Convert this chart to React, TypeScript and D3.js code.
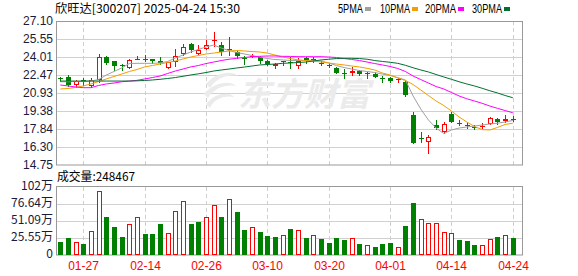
import React from 'react';
import * as d3 from 'd3';

const dates = ["01-22","01-23","01-24","01-27","02-05","02-06","02-07","02-10","02-11","02-12","02-13","02-14","02-17","02-18","02-19","02-20","02-21","02-24","02-25","02-26","02-27","02-28","03-03","03-04","03-05","03-06","03-07","03-10","03-11","03-12","03-13","03-14","03-17","03-18","03-19","03-20","03-21","03-24","03-25","03-26","03-27","03-28","03-31","04-01","04-02","04-03","04-07","04-08","04-09","04-10","04-11","04-14","04-15","04-16","04-17","04-18","04-21","04-22","04-23","04-24"];

const open = [22.21,22.34,21.57,22.08,21.53,22.04,23.97,23.63,23.33,23.11,23.88,23.77,23.80,23.63,23.07,23.58,24.27,25.17,24.27,24.74,25.39,25.04,24.66,24.48,23.93,23.99,23.99,23.67,23.28,23.65,23.56,23.28,23.90,23.87,23.50,23.35,23.10,22.66,22.61,22.81,22.57,22.53,22.21,22.24,22.08,21.89,19.04,17.06,16.70,18.18,17.61,19.12,18.39,18.14,18.01,18.07,18.29,18.69,18.52,18.72];
const high = [22.32,22.43,22.08,22.25,22.21,24.23,24.06,23.67,23.41,23.88,24.14,24.18,23.88,23.97,23.62,24.70,25.13,25.25,25.08,25.47,26.16,25.34,25.77,24.53,24.06,24.23,24.06,23.76,23.54,23.69,24.04,23.90,23.97,24.04,23.63,23.47,23.18,22.98,23.18,22.90,22.75,22.70,22.41,22.32,22.24,21.95,19.32,17.55,17.32,18.61,18.46,19.32,18.61,18.41,18.21,18.33,18.89,18.76,19.04,18.98];
const low = [21.98,21.53,21.48,21.61,21.44,21.87,23.37,22.90,22.94,23.07,23.80,23.63,23.54,23.45,23.03,23.20,24.18,24.48,24.23,24.70,24.95,24.18,24.18,23.93,23.45,23.97,23.54,23.33,23.11,23.33,23.11,23.11,23.54,23.61,23.33,23.16,22.61,22.24,22.47,22.47,22.24,22.27,21.84,21.89,21.84,20.67,16.60,16.69,15.81,17.88,17.47,18.41,18.18,17.90,17.84,17.90,18.27,18.27,18.46,18.52];
const close = [22.17,21.61,21.95,21.87,22.00,23.97,23.54,23.28,23.20,23.76,23.84,23.80,23.63,23.54,23.58,24.14,24.87,24.65,24.61,25.08,25.43,24.44,24.70,24.06,23.88,24.10,23.67,23.39,23.37,23.56,23.54,23.67,23.63,23.83,23.45,23.31,22.67,22.64,22.84,22.58,22.60,22.32,22.17,21.95,22.13,20.75,16.60,17.02,17.13,17.90,18.24,18.46,18.35,18.09,17.97,18.11,18.81,18.41,18.70,18.68];
const prevClose = 22.30;

// volume in 万
const volume = [20.0,26.0,19.5,16.5,36.1,96.2,57.1,42.1,27.0,46.6,57.1,31.6,31.6,46.6,33.1,66.1,81.1,46.6,49.6,56.6,75.1,57.1,83.6,64.6,37.6,41.6,34.6,28.5,27.0,29.6,39.1,37.1,25.5,29.6,24.0,18.0,25.5,22.5,25.0,16.5,14.5,12.0,16.5,18.0,11.5,43.6,78.1,53.6,48.1,48.1,34.6,33.1,22.5,21.0,15.0,15.0,24.0,27.0,29.6,24.8467];

const ma5 = [21.89,21.89,21.91,21.91,21.95,22.08,22.47,22.77,23.07,23.45,23.47,23.47,23.47,23.50,23.63,23.93,24.18,24.44,24.66,24.87,25.04,24.78,24.57,24.40,24.27,24.14,24.01,23.88,23.80,23.76,23.71,23.71,23.71,23.73,23.67,23.50,23.28,23.11,22.98,22.85,22.77,22.68,22.55,22.43,22.25,22.04,20.67,19.55,18.61,17.92,17.45,17.75,17.92,18.01,18.09,18.18,18.27,18.33,18.44,18.57];
const ma10 = [21.27,21.31,21.40,21.53,21.70,21.91,22.13,22.34,22.55,22.77,22.94,23.16,23.28,23.41,23.54,23.67,23.84,24.01,24.14,24.27,24.35,24.44,24.53,24.57,24.53,24.48,24.44,24.35,24.18,24.01,23.88,23.76,23.71,23.67,23.58,23.50,23.41,23.33,23.24,23.16,23.04,22.90,22.64,22.47,22.21,22.00,21.65,21.18,20.71,20.24,19.85,19.38,18.87,18.44,18.05,17.79,17.75,17.97,18.23,18.33];
const ma20 = [21.61,21.53,21.44,21.38,21.38,21.57,21.70,21.78,21.89,21.95,22.01,22.13,22.25,22.38,22.60,22.81,22.98,23.16,23.28,23.45,23.58,23.71,23.82,23.90,23.97,24.04,24.07,24.10,24.10,24.07,24.06,24.04,24.04,24.04,24.04,24.01,23.97,23.88,23.80,23.71,23.58,23.45,23.33,23.20,23.03,22.77,22.38,22.08,21.78,21.48,21.27,20.97,20.67,20.43,20.24,20.04,19.81,19.61,19.42,19.23];
const ma30 = [21.95,21.95,21.95,21.95,21.95,21.95,21.95,21.95,21.95,21.95,21.97,22.00,22.04,22.10,22.17,22.25,22.36,22.47,22.57,22.68,22.81,22.90,22.98,23.07,23.15,23.24,23.33,23.37,23.41,23.47,23.50,23.54,23.58,23.67,23.76,23.82,23.88,23.90,23.90,23.88,23.82,23.71,23.63,23.56,23.47,23.30,23.09,22.90,22.73,22.51,22.30,22.10,21.89,21.70,21.53,21.33,21.12,20.93,20.71,20.52];

const priceTicks = [14.75, 16.30, 17.84, 19.38, 20.93, 22.47, 24.01, 25.55, 27.10];
const volTicks = [0, 25.55, 51.09, 76.64, 102.18];
const volTickLabels = ["0", "25.55万", "51.09万", "76.64万", "102万"];
const xTicks = ["01-27", "02-14", "02-26", "03-10", "03-20", "04-01", "04-14", "04-24"];

const title = "欣旺达[300207] 2025-04-24 15:30";
const volTitle = "成交量:248467";
const legendNames = ["5PMA", "10PMA", "20PMA", "30PMA"];
const maColors = ["#a0a0a0", "#f0a000", "#ff00ff", "#006f30"];

const RED = "#ff0000";
const GREEN = "#008000";

export default function App() {
  const left = 56.5, right = 522.5;
  const x = d3.scalePoint<string>().domain(dates).range([60.3, 512.8]);
  const y = d3.scaleLinear().domain([14.75, 27.10]).range([165, 21]);
  const vy = d3.scaleLinear().domain([0, 102.18]).range([255, 187]);
  const px = (v: number) => Math.round(v) + 0.5;
  const font = "'Liberation Sans', 'Noto Sans CJK SC', sans-serif";
  const cjk = "'Noto Sans CJK SC', 'Liberation Sans', sans-serif";

  const maSeries = [ma5, ma10, ma20, ma30];
  const line = (arr: number[]) =>
    d3.line<number>().x((_, i) => x(dates[i]) as number).y((v) => y(v))(arr) || "";

  const legendX = [338, 380, 425, 472];
  const legendW = [25, 30, 31, 30];

  return (
    <svg width={578} height={276} style={{ position: 'absolute', left: 0, top: 0, background: '#fff' }}>
      <rect x={0} y={0} width={578} height={276} fill="#fff" />
      {/* title */}
      <text x={55} y={13} fontFamily={cjk} fontSize={12} fill="#000" textLength={185} lengthAdjust="spacingAndGlyphs">{title}</text>
      {/* legend */}
      {legendNames.map((n, i) => (
        <g key={n}>
          <text x={legendX[i]} y={13} fontFamily={font} fontSize={12} fill="#000" textLength={legendW[i]} lengthAdjust="spacingAndGlyphs">{n}</text>
          <rect x={legendX[i] + legendW[i] + 2} y={7} width={6} height={4} fill={maColors[i]} />
        </g>
      ))}

      {/* main grid */}
      {priceTicks.map((t, i) => (
        <g key={'pt' + i}>
          {i > 0 && i < priceTicks.length - 1 && (
            <line x1={left} x2={right} y1={px(y(t))} y2={px(y(t))} stroke="#d0d0d0" />
          )}
          <text x={53} y={Math.round(y(t)) + 4} textAnchor="end" fontFamily={font} fontSize={12} fill="#1a1a3a">{t.toFixed(2)}</text>
        </g>
      ))}
      {volTicks.map((t, i) => (
        <g key={'vt' + i}>
          {i > 0 && i < volTicks.length - 1 && (
            <line x1={left} x2={right} y1={px(vy(t))} y2={px(vy(t))} stroke="#d0d0d0" />
          )}
          <text x={53} y={Math.round(vy(t)) + 3} textAnchor="end" fontFamily={cjk} fontSize={12} fill="#1a1a3a">{volTickLabels[i]}</text>
        </g>
      ))}
      {xTicks.map((d) => {
        const cx = px(x(d) as number);
        return (
          <g key={'x' + d}>
            <line x1={cx} x2={cx} y1={21} y2={165} stroke="#cfcfcf" strokeDasharray="4,3" />
            <line x1={cx} x2={cx} y1={187} y2={255} stroke="#cfcfcf" strokeDasharray="4,3" />
            <text x={cx} y={270} textAnchor="middle" fontFamily={font} fontSize={12} fill={RED}>{d}</text>
          </g>
        );
      })}

      {/* watermark */}
      <text x={238} y={106} fontFamily={cjk} fontSize={33} fontWeight="bold" fill="#ebebeb" fontStyle="italic">东方财富</text>
      <g fill="#ebebeb">
        <path d="M206,84 C216,72 232,70 238,76 C228,74 216,78 210,88 Z" />
        <path d="M204,94 C214,82 230,80 236,86 C226,84 214,88 208,98 Z" />
        <path d="M206,104 C216,92 230,92 234,97 C224,95 214,99 210,108 Z" />
      </g>

      {/* borders */}
      <rect x={left} y={21.5} width={right - left} height={143.5} fill="none" stroke="#999" />
      <rect x={left} y={186.5} width={right - left} height={68.5} fill="none" stroke="#999" />

      {/* candles */}
      {dates.map((d, i) => {
        const cx = px(x(d) as number);
        const o = open[i], c = close[i];
        const up = c > o;
        const col = up ? RED : GREEN;
        const yTop = Math.round(y(Math.max(o, c)));
        const yBot = Math.round(y(Math.min(o, c)));
        const h = Math.max(1, yBot - yTop);
        return (
          <g key={'c' + d}>
            <line x1={cx} x2={cx} y1={Math.round(y(high[i]))} y2={Math.round(y(low[i])) + 1} stroke={col} />
            {up ? (
              h > 2 ? (
                <rect x={cx - 2} y={yTop + 0.5} width={4} height={h - 1} fill="#fff" stroke={col} />
              ) : (
                <rect x={cx - 2.5} y={yTop} width={5} height={h} fill={col} />
              )
            ) : (
              <rect x={cx - 2.5} y={yTop} width={5} height={h} fill={col} />
            )}
          </g>
        );
      })}

      {/* moving averages */}
      {maSeries.map((s, k) => (
        <path key={'ma' + k} d={line(s)} fill="none" stroke={maColors[k]} strokeWidth={1} />
      ))}

      {/* volume */}
      <text x={57} y={181} fontFamily={cjk} fontSize={12} fill="#000" textLength={78} lengthAdjust="spacingAndGlyphs">{volTitle}</text>
      {dates.map((d, i) => {
        const cx = px(x(d) as number);
        const pc = i === 0 ? prevClose : close[i - 1];
        const up = close[i] > pc;
        const top = Math.round(vy(volume[i]));
        const base = 255;
        return up ? (
          <rect key={'v' + d} x={cx - 2} y={top + 0.5} width={4} height={base - top - 1} fill="#fff" stroke={RED} />
        ) : (
          <rect key={'v' + d} x={cx - 2.5} y={top} width={5} height={base - top} fill={GREEN} />
        );
      })}
    </svg>
  );
}
